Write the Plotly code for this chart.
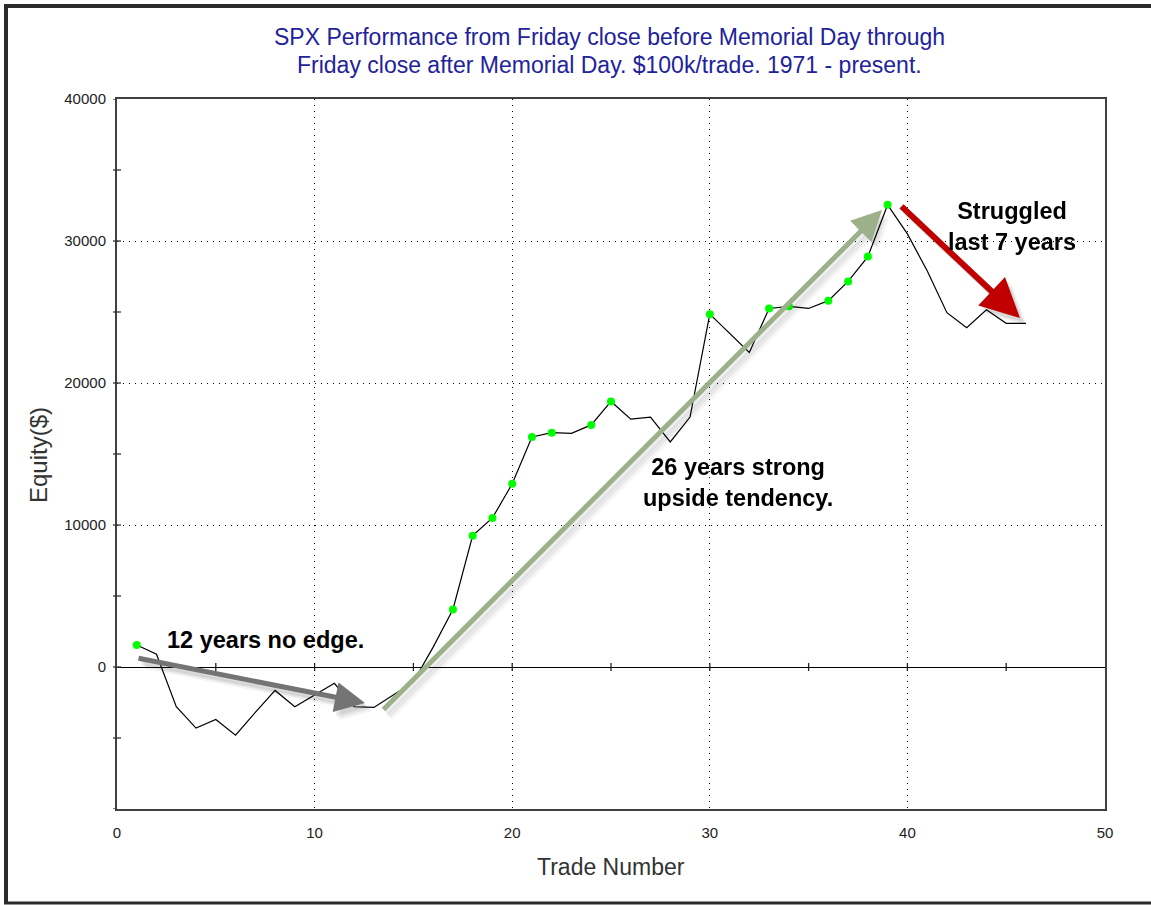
import plotly.graph_objects as go

# ---- data ----
trades = list(range(1, 47))
equity = [1550, 900, -2800, -4300, -3700, -4800, -3200, -1650, -2800, -2000,
          -1150, -2800, -2850, -1950, -1050, 1400, 4050, 9250, 10500, 12900,
          16200, 16500, 16450, 17050, 18700, 17450, 17600, 15850, 17600, 24850,
          23500, 22150, 25250, 25400, 25250, 25800, 27150, 28900, 32550, 30500,
          27900, 24950, 23900, 25150, 24200, 24200]
x_ticks = [0, 10, 20, 30, 40, 50]
x_labels = ["0", "10", "20", "30", "40", "50"]
y_ticks = [0, 10000, 20000, 30000, 40000]
y_labels = ["0", "10000", "20000", "30000", "40000"]
title_lines = ["SPX Performance from Friday close before Memorial Day through",
               "Friday close after Memorial Day. $100k/trade. 1971 - present."]

# new equity highs (green markers)
hx, hy = [], []
running = float("-inf")
for t, e in zip(trades, equity):
    if e > running:
        hx.append(t)
        hy.append(e)
        running = e

W, H = 1151, 905
L, R, T, B = 117, 1105, 99, 809
PW, PH = R - L, B - T
XMIN, XMAX, YMIN, YMAX = 0, 50, -10000, 40000

def px2x(px):
    return XMIN + (px - L) / PW * (XMAX - XMIN)

def py2y(py):
    return YMIN + (B - py) / PH * (YMAX - YMIN)

def ppx(px):
    return (px - L) / PW

def ppy(py):
    return (B - py) / PH

fig = go.Figure()
fig.add_trace(go.Scatter(x=trades, y=equity, mode="lines",
                         line=dict(color="black", width=1.2), showlegend=False,
                         hoverinfo="skip"))
fig.add_trace(go.Scatter(x=hx, y=hy, mode="markers",
                         marker=dict(color="#00ff00", size=8, line=dict(width=0)),
                         showlegend=False))

shapes = []
# outer frame (left, top, bottom)
frame_col = "#2b2b2b"
shapes.append(dict(type="line", xref="paper", yref="paper", x0=ppx(6), x1=ppx(6),
                   y0=ppy(4), y1=ppy(904), line=dict(color=frame_col, width=4)))
shapes.append(dict(type="line", xref="paper", yref="paper", x0=ppx(4), x1=ppx(1151),
                   y0=ppy(6), y1=ppy(6), line=dict(color=frame_col, width=4)))
shapes.append(dict(type="line", xref="paper", yref="paper", x0=ppx(4), x1=ppx(1151),
                   y0=ppy(903), y1=ppy(903), line=dict(color=frame_col, width=3)))
# y-axis cross ticks every 5000
for v in range(-10000, 40001, 5000):
    x1 = 4 if v not in (40000, -10000) else 0
    shapes.append(dict(type="line", xref="paper", yref="y", x0=ppx(L - 4), x1=ppx(L + x1),
                       y0=v, y1=v, line=dict(color="#333", width=1.3)))
# ticks on the zero line every 5
for v in range(5, 50, 5):
    shapes.append(dict(type="line", xref="x", yref="paper", x0=v, x1=v,
                       y0=ppy(667 - 4), y1=ppy(667 + 4), line=dict(color="#222", width=1.3)))

annotations = []
# title
for i, line in enumerate(title_lines):
    annotations.append(dict(text=line, xref="paper", yref="paper", x=ppx(609), y=ppy(37 + 28 * i),
                            showarrow=False, font=dict(family="Arial", size=23, color="#22229b"),
                            xanchor="center", yanchor="middle"))
# axis titles
annotations.append(dict(text="Equity($)", xref="paper", yref="paper", x=ppx(38), y=ppy(455),
                        showarrow=False, textangle=-90,
                        font=dict(family="Arial", size=24, color="#333"),
                        xanchor="center", yanchor="middle"))
annotations.append(dict(text="Trade Number", xref="paper", yref="paper", x=ppx(611), y=ppy(867),
                        showarrow=False, font=dict(family="Arial", size=23, color="#333"),
                        xanchor="center", yanchor="middle"))

def arrow(tail, tip, color, width, size, shadow=True):
    out = []
    if shadow:
        for k, (dx, dy, a) in enumerate([(3, 4, 0.07), (5, 6, 0.06), (7, 8, 0.04)]):
            out.append(dict(x=px2x(tip[0] + dx), y=py2y(tip[1] + dy), ax=px2x(tail[0] + dx),
                            ay=py2y(tail[1] + dy), xref="x", yref="y", axref="x", ayref="y",
                            text="", showarrow=True, arrowhead=2, arrowsize=size,
                            arrowwidth=width, arrowcolor="rgba(0,0,0,%s)" % a, standoff=0))
    out.append(dict(x=px2x(tip[0]), y=py2y(tip[1]), ax=px2x(tail[0]), ay=py2y(tail[1]),
                    xref="x", yref="y", axref="x", ayref="y", text="", showarrow=True,
                    arrowhead=2, arrowsize=size, arrowwidth=width, arrowcolor=color,
                    standoff=0))
    return out

annotations += arrow((137, 658), (365, 703), "#747474", 5, 1.2)
annotations += arrow((382, 711), (882, 210), "#9cb08a", 5, 1.2)
annotations += arrow((900, 205), (1020, 318), "#c00000", 6, 1.3)

bold = dict(family="Arial", size=23.5, color="black")
annotations.append(dict(text="<b>12 years no edge.</b>", x=px2x(265), y=py2y(640),
                        xref="x", yref="y", showarrow=False, font=bold))
annotations.append(dict(text="<b>26 years strong<br>upside tendency.</b>", x=px2x(738), y=py2y(482),
                        xref="x", yref="y", showarrow=False, font=bold))
annotations.append(dict(text="<b>Struggled<br>last 7 years</b>", x=px2x(1012), y=py2y(226),
                        xref="x", yref="y", showarrow=False, font=bold))

fig.update_layout(
    width=W, height=H,
    margin=dict(l=L, r=W - R, t=T, b=H - B, pad=0),
    paper_bgcolor="white", plot_bgcolor="white",
    shapes=shapes, annotations=annotations,
    xaxis=dict(range=[XMIN, XMAX], tickvals=x_ticks, ticktext=x_labels, ticks="", showgrid=True,
               gridcolor="black", griddash="1px,5px", gridwidth=1,
               zeroline=False, showline=True, linecolor="#404040", linewidth=2, mirror=True,
               tickfont=dict(family="Arial", size=15, color="#222"), ticklabelstandoff=9),
    yaxis=dict(range=[YMIN, YMAX], tickvals=y_ticks, ticktext=y_labels, ticks="", showgrid=True,
               gridcolor="black", griddash="1px,5px", gridwidth=1,
               zeroline=True, zerolinecolor="black", zerolinewidth=1.2,
               showline=True, linecolor="#404040", linewidth=2, mirror=True,
               tickfont=dict(family="Arial", size=15, color="#222"), ticklabelstandoff=6),
)

fig.write_html("out.html", config={"displayModeBar": False},
               post_script="document.body.style.margin='0';document.body.style.overflow='hidden';")
